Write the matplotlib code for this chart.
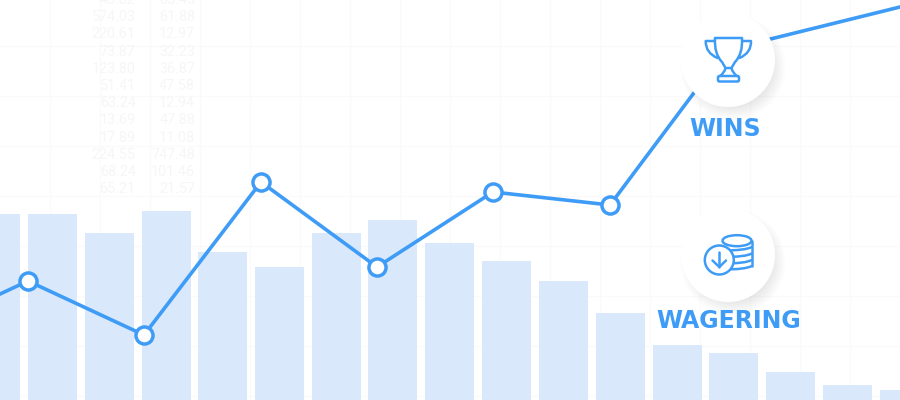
import matplotlib
matplotlib.use("Agg")
import matplotlib.pyplot as plt
from matplotlib.patches import Circle, Ellipse, PathPatch, FancyBboxPatch
from matplotlib.path import Path
from matplotlib.transforms import Affine2D

BLUE = "#3f9cf6"
BAR = "#d9e9fb"
GRID = "#fafafb"
FAINT = "#f6f6f7"

# data
bar_x = [-4.5, 52.5, 109.5, 166, 222.5, 279.5, 336.5, 392.5, 449.5, 506.5, 563.5, 620.5, 677.5, 733.5, 790.5, 847.5, 904]
bar_values = [186, 186, 167, 189, 148, 133, 167, 180, 157, 139, 119, 87, 55, 47, 28, 15, 10]
line_x = [-88, 28, 144, 261, 377, 493, 610, 726, 900]
line_values = [65, 119, 65, 218, 133, 208, 195, 350, 393]
marker_x = [28, 144, 261, 377, 493, 610]
marker_values = [119, 65, 218, 133, 208, 195]
table_left = ["43.02", "574.03", "220.61", "73.87", "123.80", "51.41", "63.24", "13.69", "17.89", "224.55", "68.24", "65.21"]
table_right = ["85.45", "61.88", "12.97", "32.23", "36.87", "47.58", "12.94", "47.88", "11.08", "747.48", "101.46", "21.57"]

fig = plt.figure(figsize=(9, 4), dpi=100, facecolor="white")
ax = fig.add_axes([0, 0, 1, 1])
ax.set_xlim(0, 900)
ax.set_ylim(0, 400)
ax.axis("off")
down = Affine2D().scale(1, -1).translate(0, 400) + ax.transData

# faint grid
for gx in range(49, 900, 50):
    ax.plot([gx + 0.5, gx + 0.5], [0, 400], color=GRID, lw=1, zorder=1)
for gy in range(46, 400, 50):
    ax.plot([0, 900], [400 - gy, 400 - gy], color=GRID, lw=1, zorder=1)

# faint table
for i, (a, b) in enumerate(zip(table_left, table_right)):
    y = 0.1 + 17.2 * i
    ax.text(135.7, y, a, transform=down, ha="right", va="center", family="Roboto", fontsize=10.4, color=FAINT, zorder=2)
    ax.text(195, y, b, transform=down, ha="right", va="center", family="Roboto", fontsize=10.4, color=FAINT, zorder=2)

# bars and line
ax.bar(bar_x, bar_values, width=49, color=BAR, zorder=3)
ax.plot(line_x, line_values, color=BLUE, lw=2.6, zorder=4, solid_joinstyle="round")
ax.plot(marker_x, marker_values, ls="none", marker="o", ms=12.3, mfc="white", mec=BLUE, mew=2.5, zorder=5)


def badge(cx, cy):
    for k in range(24):
        r = 53 - k * 0.6
        ax.add_patch(Circle((cx + 5, cy + 7), r, transform=down, fc="#000000", ec="none", alpha=0.0035, zorder=6))
    ax.add_patch(Circle((cx, cy), 47, transform=down, fc="white", ec="none", zorder=7))


def stroke(verts, codes=None, z=8):
    if codes is None:
        codes = [Path.MOVETO] + [Path.LINETO] * (len(verts) - 1)
    ax.add_patch(PathPatch(Path(verts, codes), transform=down, fc="none", ec=BLUE, lw=1.8, zorder=z,
                           capstyle="round", joinstyle="round"))


badge(728, 60)
badge(728, 255)

# trophy icon
C3, L, M = Path.CURVE3, Path.LINETO, Path.MOVETO
stroke([(715, 38), (742, 38), (743, 54), (735, 62), (731.5, 68), (725.5, 68), (722, 62), (714, 54), (715, 38)],
       [M, L, C3, C3, L, L, L, C3, C3])
stroke([(715, 41), (705.7, 41), (705.5, 53), (717.5, 58)], [M, L, C3, C3])
stroke([(742, 41), (751, 41), (751.5, 53), (739.5, 58)], [M, L, C3, C3])
stroke([(725.5, 68), (724.5, 73), (720, 76)], [M, C3, C3])
stroke([(731.5, 68), (732.5, 73), (737, 76)], [M, C3, C3])
ax.add_patch(FancyBboxPatch((718, 76), 21, 5.5, boxstyle="round,pad=0,rounding_size=1.5", transform=down,
                            fc="none", ec=BLUE, lw=1.8, zorder=8))

# coins icon
ax.add_patch(Ellipse((737, 240.7), 29, 11, transform=down, fc="white", ec=BLUE, lw=1.8, zorder=8))
for ry in (247, 253.5, 260, 266):
    stroke([(722.5, ry + 3.5), (746, ry + 3.5), (751.7, ry)], [M, C3, C3])
stroke([(751.7, 241), (751.7, 266)])
ax.add_patch(Circle((719.3, 260), 14.5, transform=down, fc="white", ec=BLUE, lw=1.8, zorder=9))
stroke([(719.3, 251.5), (719.3, 267)], z=10)
stroke([(712.5, 260.5), (719.3, 267), (726, 260.5)], z=10)

# labels
ax.text(725, 126.5, "WINS", transform=down, ha="center", va="center_baseline", family="DejaVu Sans", fontweight="bold",
        fontsize=17, color=BLUE, zorder=8)
ax.text(728.5, 318, "WAGERING", transform=down, ha="center", va="center_baseline", family="DejaVu Sans", fontweight="bold",
        fontsize=17, color=BLUE, zorder=8)

fig.savefig("out.png", dpi=100)
